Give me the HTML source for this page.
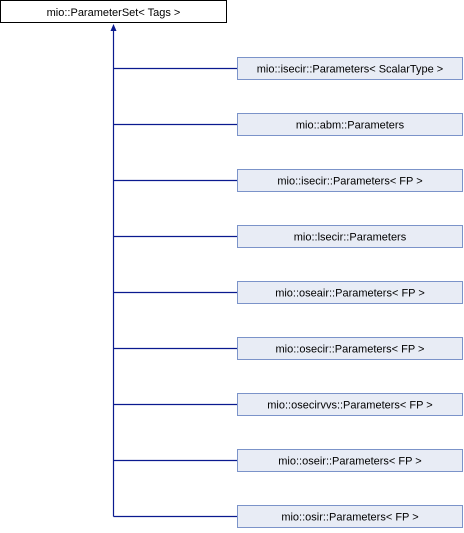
<!DOCTYPE html>
<html><head><style>
body{margin:0;width:464px;height:528px;background:#fff;overflow:hidden}
svg text{font-family:"Liberation Sans",sans-serif;font-size:11px}
</style></head><body>
<svg width="464" height="528" xmlns="http://www.w3.org/2000/svg">
<rect x="0.5" y="0.5" width="226" height="22" fill="#fff" stroke="#000"/>
<text x="113.5" y="16" text-anchor="middle">mio::ParameterSet&lt; Tags &gt;</text>
<line x1="113.5" y1="30" x2="113.5" y2="516.5" stroke="#0a1a8f" stroke-width="1.2"/>
<polygon points="113.5,24 110.5,31 116.5,31" fill="#0a1a8f"/>
<g stroke="#0a1a8f" stroke-width="1.2">
<line x1="113.5" y1="68.5" x2="237" y2="68.5"/>
<line x1="113.5" y1="124.5" x2="237" y2="124.5"/>
<line x1="113.5" y1="180.5" x2="237" y2="180.5"/>
<line x1="113.5" y1="236.5" x2="237" y2="236.5"/>
<line x1="113.5" y1="292.5" x2="237" y2="292.5"/>
<line x1="113.5" y1="348.5" x2="237" y2="348.5"/>
<line x1="113.5" y1="404.5" x2="237" y2="404.5"/>
<line x1="113.5" y1="460.5" x2="237" y2="460.5"/>
<line x1="113.5" y1="516.5" x2="237" y2="516.5"/>
</g>
<g fill="#e8ecf5" stroke="#7b93c9">
<rect x="237.5" y="57.5" width="225" height="22"/>
<rect x="237.5" y="113.5" width="225" height="22"/>
<rect x="237.5" y="169.5" width="225" height="22"/>
<rect x="237.5" y="225.5" width="225" height="22"/>
<rect x="237.5" y="281.5" width="225" height="22"/>
<rect x="237.5" y="337.5" width="225" height="22"/>
<rect x="237.5" y="393.5" width="225" height="22"/>
<rect x="237.5" y="449.5" width="225" height="22"/>
<rect x="237.5" y="505.5" width="225" height="22"/>
</g>
<g text-anchor="middle">
<text x="350" y="72.5">mio::isecir::Parameters&lt; ScalarType &gt;</text>
<text x="350" y="128.5">mio::abm::Parameters</text>
<text x="350" y="184.5">mio::isecir::Parameters&lt; FP &gt;</text>
<text x="350" y="240.5">mio::lsecir::Parameters</text>
<text x="350" y="296.5">mio::oseair::Parameters&lt; FP &gt;</text>
<text x="350" y="352.5">mio::osecir::Parameters&lt; FP &gt;</text>
<text x="350" y="408.5">mio::osecirvvs::Parameters&lt; FP &gt;</text>
<text x="350" y="464.5">mio::oseir::Parameters&lt; FP &gt;</text>
<text x="350" y="520.5">mio::osir::Parameters&lt; FP &gt;</text>
</g>
</svg>
</body></html>
